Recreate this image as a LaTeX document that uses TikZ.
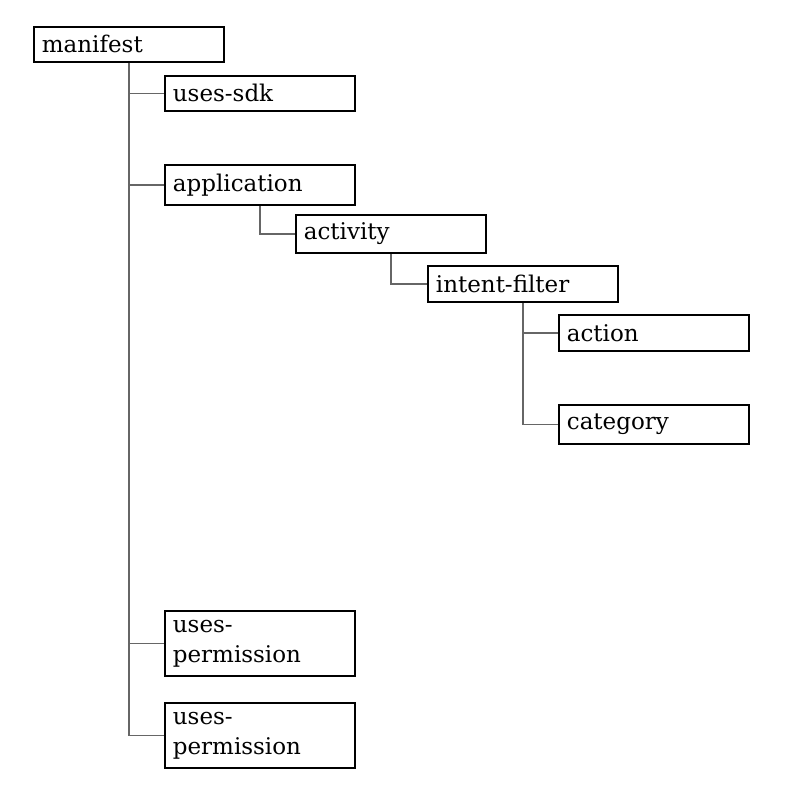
\documentclass[tikz,border=0pt]{standalone}
\usepackage{fontspec}
\setmainfont{DejaVu Serif}
\begin{document}
\begin{tikzpicture}[x=1pt,y=-1pt,
  elem/.style={draw=black,line width=1.8pt,rectangle,anchor=north west,
    minimum width=190pt,text width=174pt,align=left,inner xsep=8pt,inner ysep=0pt,
    font=\fontsize{23}{30}\selectfont},
  link/.style={draw=black!60,line width=1.3pt}]
\useasboundingbox (0,0) rectangle (794,800);
\node[elem,minimum height=35pt] (manifest) at (33,26) {manifest};
\node[elem,minimum height=35pt] (usessdk) at (164,75) {uses-sdk};
\node[elem,minimum height=40pt] (application) at (164,164) {application};
\node[elem,minimum height=38pt] (activity) at (295,214) {activity};
\node[elem,minimum height=36pt] (intentfilter) at (427,265) {intent-filter};
\node[elem,minimum height=36pt] (action) at (558,314) {action};
\node[elem,minimum height=39pt] (category) at (558,404) {category};
\node[elem,minimum height=65pt] (perm1) at (164,610) {uses-\\permission};
\node[elem,minimum height=65pt] (perm2) at (164,702) {uses-\\permission};
\draw[link] (manifest.south) |- (usessdk.west);
\draw[link] (manifest.south) |- (application.west);
\draw[link] (manifest.south) |- (perm1.west);
\draw[link] (manifest.south) |- (perm2.west);
\draw[link] (application.south) |- (activity.west);
\draw[link] (activity.south) |- (intentfilter.west);
\draw[link] (intentfilter.south) |- (action.west);
\draw[link] (intentfilter.south) |- (category.west);
\end{tikzpicture}
\end{document}
